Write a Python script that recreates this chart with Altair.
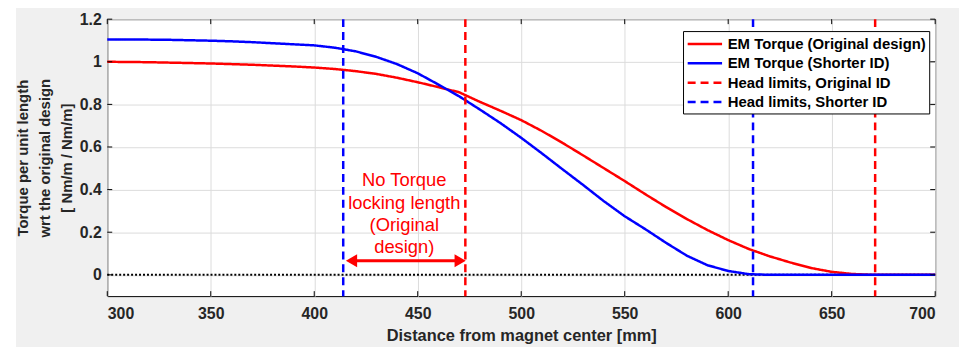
import altair as alt
import pandas as pd

# ---------------- data ----------------
x_vals = [300, 310, 320, 330, 340, 350, 360, 370, 380, 390, 400, 410, 420, 430, 440,
          450, 460, 470, 480, 490, 500, 510, 520, 530, 540, 550, 560, 570, 580, 590,
          600, 610, 620, 630, 640, 650, 660, 670, 680, 690, 700]
orig_torque = [1.000, 0.999, 0.998, 0.996, 0.994, 0.992, 0.989, 0.986, 0.982, 0.978,
               0.973, 0.966, 0.956, 0.943, 0.925, 0.904, 0.881, 0.857, 0.812, 0.770,
               0.726, 0.675, 0.619, 0.560, 0.500, 0.440, 0.378, 0.318, 0.262, 0.210,
               0.163, 0.121, 0.087, 0.058, 0.032, 0.014, 0.004, 0.000, 0.000, 0.000, 0.000]
short_torque = [1.105, 1.105, 1.104, 1.103, 1.101, 1.099, 1.096, 1.092, 1.087, 1.082,
                1.077, 1.066, 1.049, 1.023, 0.989, 0.946, 0.893, 0.838, 0.776, 0.712,
                0.643, 0.570, 0.495, 0.421, 0.345, 0.275, 0.214, 0.150, 0.090, 0.045,
                0.018, 0.003, 0.000, 0.000, 0.000, 0.000, 0.000, 0.000, 0.000, 0.000, 0.000]
series_names = ["EM Torque (Original design)", "EM Torque (Shorter ID)",
                "Head limits, Original ID", "Head limits, Shorter ID"]
limit_x = [473, 414, 671, 612]
limit_series = [series_names[2], series_names[3], series_names[2], series_names[3]]
x_ticks = [300, 350, 400, 450, 500, 550, 600, 650, 700]
y_ticks = [0, 0.2, 0.4, 0.6, 0.8, 1.0, 1.2]
annot_lines = ["No Torque", "locking length", "(Original", "design)"]
annot_x = 443.5
annot_y = 0.443
arrow_x = [418, 470.5]
arrow_y = 0.066

# ---------------- tables ----------------
curves = pd.DataFrame({
    "x": x_vals * 2,
    "y": orig_torque + short_torque,
    "series": [series_names[0]] * len(x_vals) + [series_names[1]] * len(x_vals),
})
limits = pd.DataFrame({"x": limit_x, "series": limit_series})
xt = pd.DataFrame({"x": x_ticks})
yt = pd.DataFrame({"y": y_ticks})
zero = pd.DataFrame({"x": [300, 700], "y": [0, 0]})
annot = pd.DataFrame({"x": [annot_x], "y": [annot_y], "t": ["\n".join(annot_lines)]})
arrow = pd.DataFrame({"x": [arrow_x[0]], "x2": [arrow_x[1]], "y": [arrow_y]})
heads = pd.DataFrame({"x": arrow_x, "y": [arrow_y, arrow_y],
                      "shape": ["triangle-left", "triangle-right"]})

W, H = 834, 279
FONT = "Liberation Sans"

xscale = alt.Scale(domain=[300, 700], nice=False, zero=False)
yscale = alt.Scale(domain=[-0.1, 1.2], nice=False, zero=False)

color_scale = alt.Scale(domain=series_names, range=["#ff0000", "#0000ff", "#ff0000", "#0000ff"])
dash_scale = alt.Scale(domain=series_names, range=[[1, 0], [1, 0], [8, 5], [8, 5]])

x_axis = alt.Axis(values=x_ticks, format="d", title="Distance from magnet center [mm]",
                  grid=True, tickSize=0, labelPadding=10, titlePadding=6,
                  titleFontSize=16.5)
y_axis = alt.Axis(values=y_ticks, format="~g",
                  title=["Torque per unit length", "wrt the original design", "[ Nm/m / Nm/m]"],
                  grid=True, tickSize=0, labelPadding=6, titlePadding=5,
                  titleFontSize=15, titleLineHeight=22)

legend = alt.Legend(title=None, orient="none", legendX=580, legendY=12,
                    symbolType="M-2,0H2", symbolSize=300, symbolStrokeWidth=2.5,
                    symbolOffset=9, labelOffset=13,
                    fillColor="white", strokeColor="black", padding=3,
                    labelFont=FONT, labelFontWeight="bold", labelFontSize=15,
                    labelColor="black", rowPadding=1.5, labelLimit=400)

base_x = alt.X("x:Q", scale=xscale, axis=x_axis)
base_y = alt.Y("y:Q", scale=yscale, axis=y_axis)

zero_line = alt.Chart(zero).mark_line(color="black", strokeDash=[2, 2], strokeWidth=2).encode(
    x=base_x, y=base_y)

lines = alt.Chart(curves).mark_line(strokeWidth=2.5).encode(
    x=base_x, y=base_y,
    color=alt.Color("series:N", scale=color_scale, legend=legend),
    strokeDash=alt.StrokeDash("series:N", scale=dash_scale, legend=legend),
)

vrules = alt.Chart(limits).mark_rule(strokeWidth=2.5).encode(
    x=alt.X("x:Q", scale=xscale),
    color=alt.Color("series:N", scale=color_scale, legend=legend),
    strokeDash=alt.StrokeDash("series:N", scale=dash_scale, legend=legend),
)

ticks_bottom = alt.Chart(xt).mark_rule(color="black", strokeWidth=1).encode(
    x=alt.X("x:Q", scale=xscale), y=alt.value(H - 5), y2=alt.value(H))
ticks_top = alt.Chart(xt).mark_rule(color="black", strokeWidth=1).encode(
    x=alt.X("x:Q", scale=xscale), y=alt.value(0), y2=alt.value(5))
ticks_left = alt.Chart(yt).mark_rule(color="black", strokeWidth=1).encode(
    y=alt.Y("y:Q", scale=yscale), x=alt.value(0), x2=alt.value(5))
ticks_right = alt.Chart(yt).mark_rule(color="black", strokeWidth=1).encode(
    y=alt.Y("y:Q", scale=yscale), x=alt.value(W - 5), x2=alt.value(W))

text = alt.Chart(annot).mark_text(color="#ff0000", font=FONT, fontSize=18.5, lineHeight=22.5,
                                  lineBreak="\n", align="center", baseline="middle").encode(
    x=alt.X("x:Q", scale=xscale), y=alt.Y("y:Q", scale=yscale), text="t:N")

arrow_line = alt.Chart(arrow).mark_rule(color="#ff0000", strokeWidth=3).encode(
    x=alt.X("x:Q", scale=xscale), x2="x2:Q", y=alt.Y("y:Q", scale=yscale))
arrow_heads = alt.Chart(heads).mark_point(color="#ff0000", filled=True, opacity=1, size=170).encode(
    x=alt.X("x:Q", scale=xscale), y=alt.Y("y:Q", scale=yscale),
    shape=alt.Shape("shape:N", scale=None))

left_strip = alt.Chart(zero).mark_rect(color="white", clip=False).encode(
    x=alt.value(-100), x2=alt.value(-92), y=alt.value(-20), y2=alt.value(340))

chart = alt.layer(
    zero_line, lines, vrules, ticks_bottom, ticks_top, ticks_left, ticks_right,
    text, arrow_line, arrow_heads, left_strip
).resolve_scale(color="shared", strokeDash="shared").properties(
    width=W, height=H,
    autosize=alt.AutoSizeParams(type="none"),
    padding={"left": 100, "top": 10, "right": 24, "bottom": 50},
    background="#f0f0f0",
).configure_view(
    fill="white", stroke="black", strokeWidth=1,
).configure_axis(
    labelFont=FONT, labelFontWeight="bold", labelFontSize=16, labelColor="#262626",
    titleFont=FONT, titleFontWeight="bold", titleColor="#262626",
    domain=False, gridColor="#dcdcdc", gridWidth=1,
)

chart.save("out.html", embed_options={"renderer": "svg", "actions": False})
